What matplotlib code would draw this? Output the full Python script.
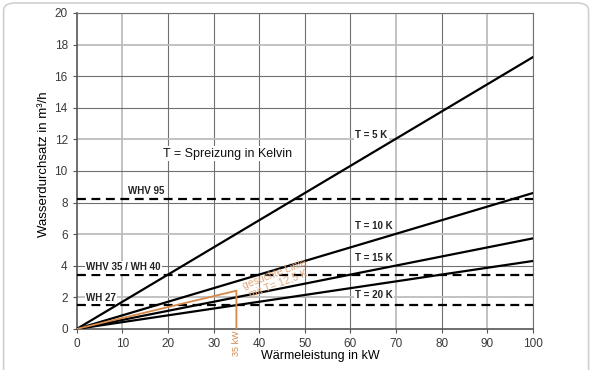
import matplotlib.pyplot as plt
from matplotlib.patches import FancyBboxPatch

plt.rcParams['font.family'] = ['Liberation Sans', 'DejaVu Sans']

# Wärmeleistung (kW) at line ends and Wasserdurchsatz (m³/h)
power = [0, 100]
flow_5k = [0, 17.2]
flow_10k = [0, 8.6]
flow_15k = [0, 5.73]
flow_20k = [0, 4.3]

# Geräte-Grenzwerte (m³/h)
limit_names = ['WHV 95', 'WHV 35 / WH 40', 'WH 27']
limit_values = [8.23, 3.42, 1.52]

# gesuchte Linie bei 35 kW, T = 12,5 K
search_x = [0, 35, 35]
search_y = [0, 2.42, 0]

fig = plt.figure(figsize=(6, 3.7), dpi=100)
ax = fig.add_axes([0.128, 0.111, 0.76, 0.854])

# frame around the picture, bottom edge runs off the image
fig.patches.append(FancyBboxPatch((0.006, -0.05), 0.975, 1.042,
                                  boxstyle='round,pad=0,rounding_size=0.02',
                                  transform=fig.transFigure, fill=False,
                                  edgecolor='#d0d0d0', lw=1.2))

ax.set_xlim(0, 100)
ax.set_ylim(0, 20)
ax.set_xticks(range(0, 101, 10))
ax.set_yticks(range(0, 21, 2))

# grid, some lines light and some dark like in the original
light_x = [10, 70, 90]
light_y = [2, 6, 12, 18]
for x in range(10, 101, 10):
    if x in light_x:
        ax.axvline(x, color='#bdbdbd', lw=1.3, zorder=0)
    else:
        ax.axvline(x, color='#707070', lw=0.8, zorder=0)
for y in range(2, 21, 2):
    if y in light_y:
        ax.axhline(y, color='#bdbdbd', lw=1.3, zorder=0)
    else:
        ax.axhline(y, color='#707070', lw=0.8, zorder=0)

for s in ax.spines.values():
    s.set_color('#707070')
    s.set_linewidth(0.8)
ax.spines['left'].set_color('#555555')
ax.spines['left'].set_linewidth(1.2)
ax.spines['bottom'].set_color('#555555')
ax.spines['bottom'].set_linewidth(1.2)

ax.tick_params(direction='out', length=3, width=0.8, colors='#555555',
               labelsize=8.5, labelcolor='#3a3a3a')

for vals in [flow_5k, flow_10k, flow_15k, flow_20k]:
    ax.plot(power, vals, color='black', lw=1.6, zorder=3)

for val in limit_values:
    ax.plot([0, 100], [val, val], color='black', lw=1.6, ls=(0, (4, 2.5)), zorder=3)

ax.plot(search_x, search_y, color='#d4894a', lw=1.3, zorder=4)

box = dict(facecolor='white', edgecolor='none', pad=1.0)
lbl = dict(fontsize=7, fontweight='bold', color='#222222', va='center',
           bbox=box, zorder=5)
ax.text(11.2, 8.75, limit_names[0], **lbl)
ax.text(2.0, 3.9, limit_names[1], **lbl)
ax.text(2.0, 1.96, limit_names[2], **lbl)
ax.text(61, 12.3, 'T = 5 K', **lbl)
ax.text(61, 6.5, 'T = 10 K', **lbl)
ax.text(61, 4.5, 'T = 15 K', **lbl)
ax.text(61, 2.15, 'T = 20 K', **lbl)

ax.text(18.9, 11.1, 'T = Spreizung in Kelvin', fontsize=9, va='center',
        color='#111111', bbox=box, zorder=5)

ax.text(43.8, 3.15, 'gesuchte Linie\nmit T= 12,5 K', fontsize=7.5, color='#e2a77a',
        rotation=21, ha='center', va='center', linespacing=1.0, zorder=5)
ax.text(35, -0.1, '35 kW', fontsize=6.5, color='#d4894a', rotation=90,
        ha='center', va='top', clip_on=False)

ax.set_xlabel('Wärmeleistung in kW', fontsize=9)
ax.xaxis.set_label_coords(0.535, -0.068)
ax.set_ylabel('Wasserdurchsatz in m³/h', fontsize=9.5)
ax.yaxis.set_label_coords(-0.058, 0.52)

fig.savefig('out.png', dpi=100)
